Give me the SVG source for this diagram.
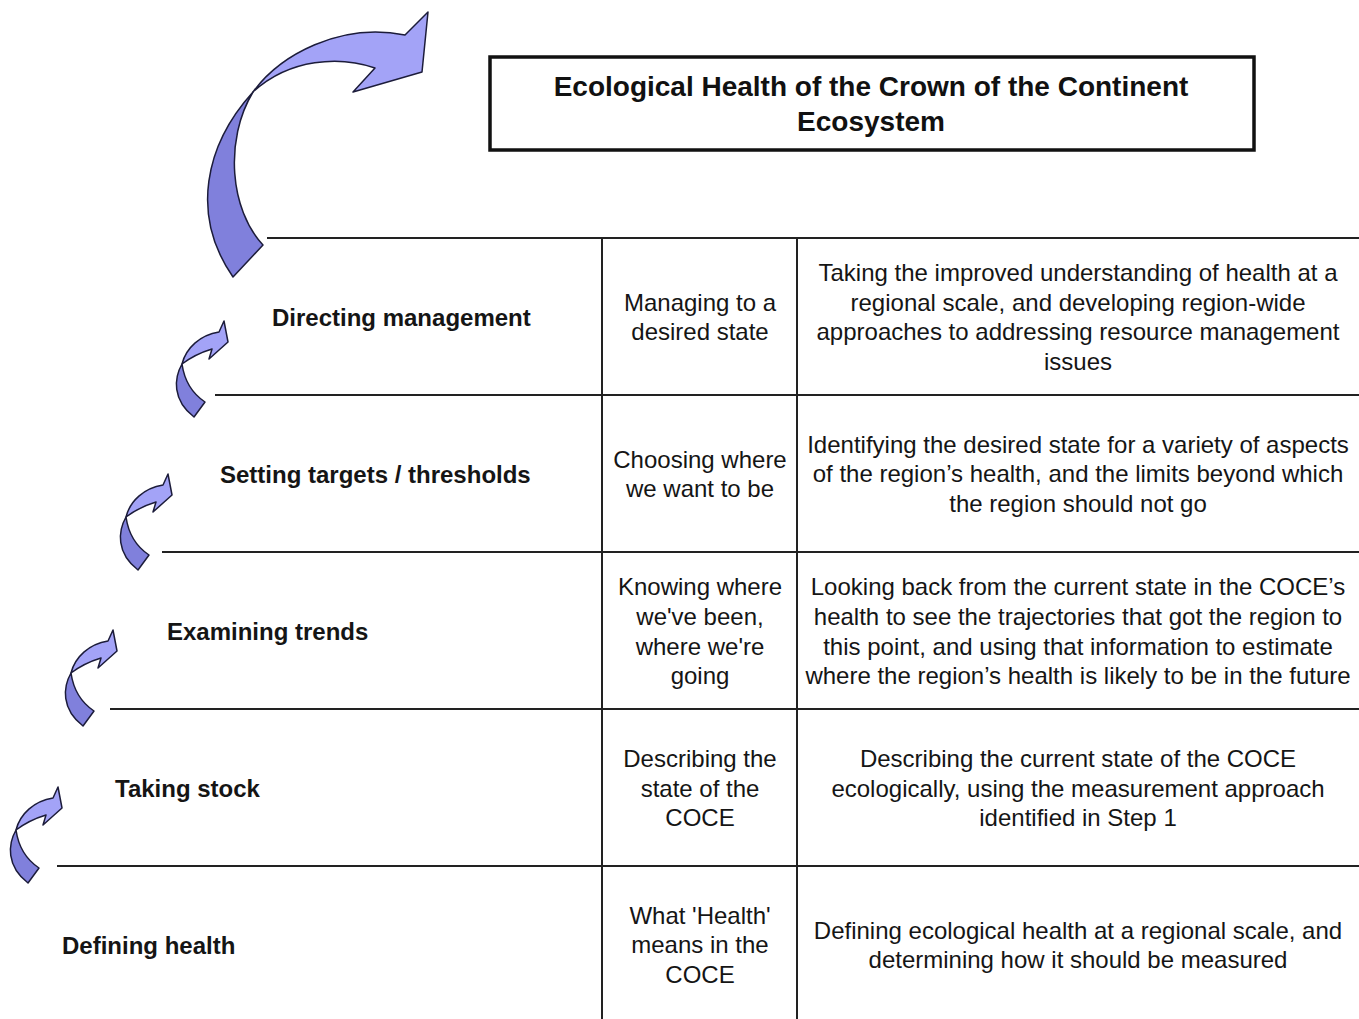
<svg xmlns="http://www.w3.org/2000/svg" width="1359" height="1019" viewBox="0 0 1359 1019">
<defs>
<style>
.t{font-family:"Liberation Sans",Arial,sans-serif;font-size:24px;fill:#151515;text-anchor:middle}
.b{font-family:"Liberation Sans",Arial,sans-serif;font-size:24px;font-weight:bold;fill:#151515}
.title{font-family:"Liberation Sans",Arial,sans-serif;font-size:28px;font-weight:bold;fill:#111;text-anchor:middle}
.ln{stroke:#222;stroke-width:2;fill:none}
.up{fill:#a3a3f7;stroke:#1c1c3a;stroke-width:1.5;stroke-linejoin:round}
.lo{fill:#8080dc;stroke:#1c1c3a;stroke-width:1.5;stroke-linejoin:round}
</style>
<g id="smallArrow">
<path class="lo" d="M0,0 C-8,14 -10,36 12,53 L23,38 C8,28 2,14 0,0 Z"/>
<path class="up" d="M0,0 C4,-16 18,-29 37,-32 L42,-43 L46,-22 L27,-5 L30,-15 C20,-12 8,-6 0,0 Z"/>
</g>
</defs>
<rect width="1359" height="1019" fill="#fff"/>

<g id="title">
<rect x="490" y="57" width="764" height="93" fill="#fff" stroke="#111" stroke-width="3.5"/>
<text class="title" x="871" y="96">Ecological Health of the Crown of the Continent</text>
<text class="title" x="871" y="131">Ecosystem</text>
</g>

<g id="bigArrow">
<path class="lo" d="M253,92 C205,145 190,215 233,277 L263,245 C230,210 224,140 253,92 Z"/>
<path class="up" d="M253,92 C280,55 340,22 405,35 L428,12 L422,72 L353,92 L375,68 C340,56 290,58 253,92 Z"/>
</g>

<g id="connectors">
<line class="ln" x1="267" y1="238" x2="1359" y2="238"/>
<line class="ln" x1="215" y1="395" x2="1359" y2="395"/>
<line class="ln" x1="162" y1="552" x2="1359" y2="552"/>
<line class="ln" x1="110" y1="709" x2="1359" y2="709"/>
<line class="ln" x1="57" y1="866" x2="1359" y2="866"/>
<line class="ln" x1="602" y1="238" x2="602" y2="1019"/>
<line class="ln" x1="797" y1="238" x2="797" y2="1019"/>
</g>

<g id="arrows">
<use href="#smallArrow" x="182" y="364"/>
<use href="#smallArrow" x="126" y="517"/>
<use href="#smallArrow" x="71" y="673"/>
<use href="#smallArrow" x="16" y="830"/>
</g>

<g id="row1">
<text class="b" x="272" y="326">Directing management</text>
<text class="t" x="700" y="311">Managing to a</text>
<text class="t" x="700" y="340">desired state</text>
<text class="t" x="1078" y="281">Taking the improved understanding of health at a</text>
<text class="t" x="1078" y="311">regional scale, and developing region-wide</text>
<text class="t" x="1078" y="340">approaches to addressing resource management</text>
<text class="t" x="1078" y="370">issues</text>
</g>

<g id="row2">
<text class="b" x="220" y="483">Setting targets / thresholds</text>
<text class="t" x="700" y="468">Choosing where</text>
<text class="t" x="700" y="497">we want to be</text>
<text class="t" x="1078" y="453">Identifying the desired state for a variety of aspects</text>
<text class="t" x="1078" y="482">of the region’s health, and the limits beyond which</text>
<text class="t" x="1078" y="512">the region should not go</text>
</g>

<g id="row3">
<text class="b" x="167" y="640">Examining trends</text>
<text class="t" x="700" y="595">Knowing where</text>
<text class="t" x="700" y="625">we've been,</text>
<text class="t" x="700" y="655">where we're</text>
<text class="t" x="700" y="684">going</text>
<text class="t" x="1078" y="595">Looking back from the current state in the COCE’s</text>
<text class="t" x="1078" y="625">health to see the trajectories that got the region to</text>
<text class="t" x="1078" y="655">this point, and using that information to estimate</text>
<text class="t" x="1078" y="684">where the region’s health is likely to be in the future</text>
</g>

<g id="row4">
<text class="b" x="115" y="797">Taking stock</text>
<text class="t" x="700" y="767">Describing the</text>
<text class="t" x="700" y="797">state of the</text>
<text class="t" x="700" y="826">COCE</text>
<text class="t" x="1078" y="767">Describing the current state of the COCE</text>
<text class="t" x="1078" y="797">ecologically, using the measurement approach</text>
<text class="t" x="1078" y="826">identified in Step 1</text>
</g>

<g id="row5">
<text class="b" x="62" y="954">Defining health</text>
<text class="t" x="700" y="924">What 'Health'</text>
<text class="t" x="700" y="953">means in the</text>
<text class="t" x="700" y="983">COCE</text>
<text class="t" x="1078" y="939">Defining ecological health at a regional scale, and</text>
<text class="t" x="1078" y="968">determining how it should be measured</text>
</g>
</svg>
